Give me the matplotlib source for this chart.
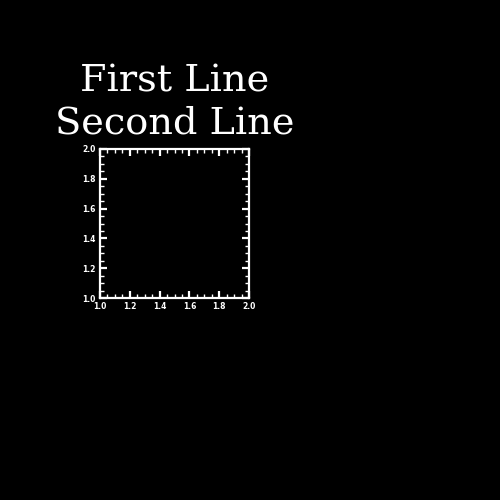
import matplotlib
matplotlib.use("Agg")
import matplotlib.pyplot as plt
from matplotlib.ticker import MultipleLocator, FormatStrFormatter

title_lines = ["First Line", "Second Line"]
xlim = [1.0, 2.0]
ylim = [1.0, 2.0]
major_step = 0.2
minor_step = 0.05

fig = plt.figure(figsize=(5, 5), dpi=100, facecolor="black")
ax = fig.add_axes([0.2, 0.404, 0.298, 0.298], facecolor="black")
ax.set_xlim(xlim)
ax.set_ylim(ylim)
for s in ax.spines.values():
    s.set_color("white")
    s.set_linewidth(1.6)
for axis in (ax.xaxis, ax.yaxis):
    axis.set_major_locator(MultipleLocator(major_step))
    axis.set_minor_locator(MultipleLocator(minor_step))
    axis.set_major_formatter(FormatStrFormatter("%.1f"))
ax.tick_params(which="both", direction="in", top=True, right=True, colors="white",
               labelsize=5.5, pad=3)
ax.tick_params(which="major", length=5, width=1.6)
ax.tick_params(which="minor", length=3, width=1.0)
for lab in ax.get_xticklabels() + ax.get_yticklabels():
    lab.set_fontweight("bold")

for txt, y in zip(title_lines, [0.836, 0.754]):
    fig.text(0.35, y, txt, ha="center", va="center", color="white",
             fontsize=27.5, family="DejaVu Serif", fontweight="light")

fig.savefig("out.png", dpi=100, facecolor="black")
